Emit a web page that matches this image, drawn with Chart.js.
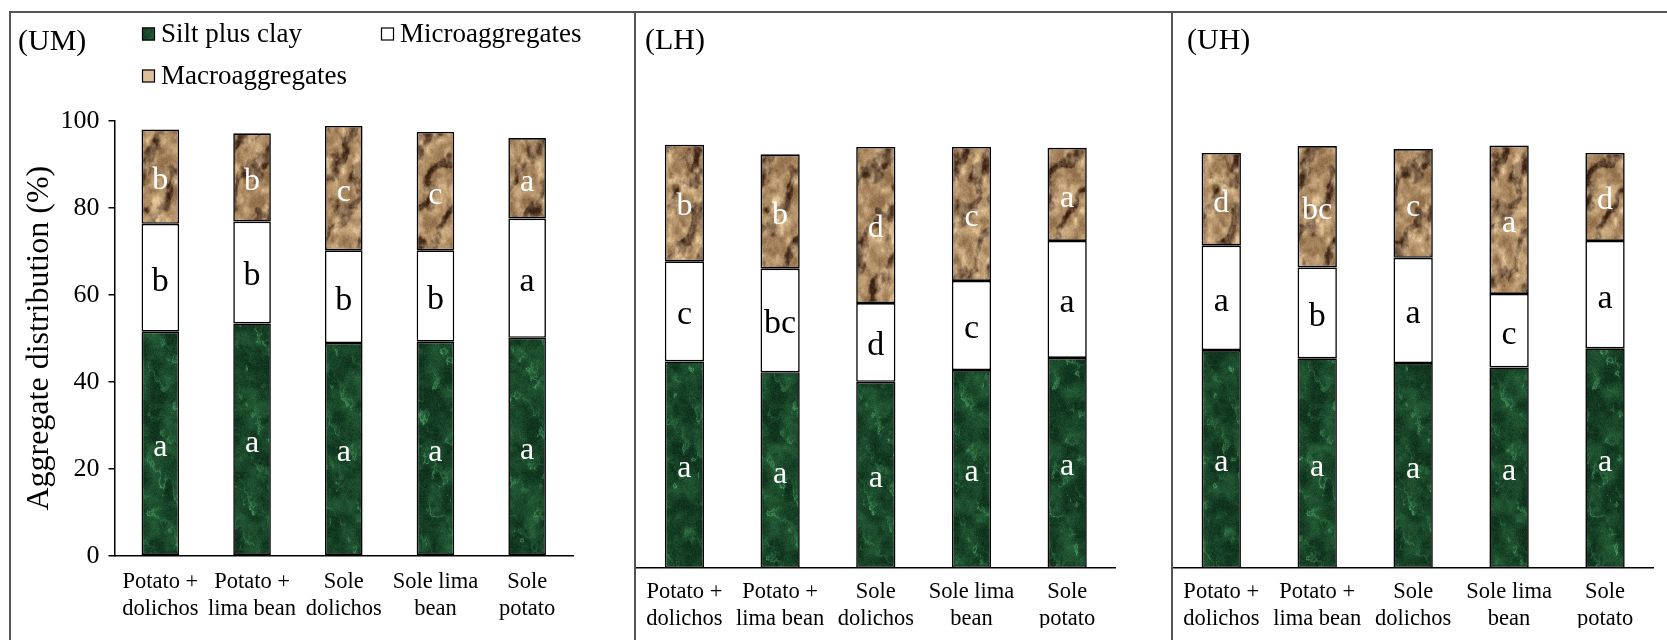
<!DOCTYPE html>
<html lang="en">
<head>
<meta charset="UTF-8">
<title>Aggregate distribution</title>
<style>
  html, body { margin: 0; padding: 0; background: #fff; }
  #wrap { position: relative; width: 1667px; height: 640px; overflow: hidden;
          font-family: 'Times New Roman', 'Liberation Serif', serif; }
  canvas { position: absolute; top: 0; }
  .rule { position: absolute; background: #555; }
  .tag { position: absolute; font-size: 30px; line-height: 30px; color: #000; white-space: nowrap; }
</style>
</head>
<body>
<div id="wrap">
  <canvas id="um" width="640" height="640" style="left:0px;width:640px;height:640px"></canvas>
  <canvas id="lh" width="540" height="640" style="left:620px;width:540px;height:640px"></canvas>
  <canvas id="uh" width="507" height="640" style="left:1160px;width:507px;height:640px"></canvas>

  <div class="rule" style="left:9px;top:11px;width:1658px;height:2px"></div>
  <div class="rule" style="left:9px;top:11px;width:2px;height:629px"></div>
  <div class="rule" style="left:634px;top:11px;width:2px;height:629px"></div>
  <div class="rule" style="left:1171px;top:11px;width:2px;height:629px"></div>

  <div class="tag" style="left:18px;top:25px">(UM)</div>
  <div class="tag" style="left:645px;top:24px">(LH)</div>
  <div class="tag" style="left:1187px;top:24px">(UH)</div>
</div>

<script src="https://cdn.jsdelivr.net/npm/chart.js"></script>
<script>
const SERIF = "'Times New Roman', 'Liberation Serif', serif";

// categories (two-line tick labels)
const treatments = [
  ['Potato +', 'dolichos'],
  ['Potato +', 'lima bean'],
  ['Sole', 'dolichos'],
  ['Sole lima', 'bean'],
  ['Sole', 'potato']
];
const fractionNames = ['Silt plus clay', 'Microaggregates', 'Macroaggregates'];
const yTicks = [0, 20, 40, 60, 80, 100];

// UM
const umSilt  = [51.5, 53.4, 48.9, 49.2, 50.1];
const umMicro = [24.8, 23.4, 21.3, 21.0, 27.4];
const umMacro = [21.7, 20.3, 28.6, 27.2, 18.5];
const umSiltLet  = ['a', 'a', 'a', 'a', 'a'];
const umMicroLet = ['b', 'b', 'b', 'b', 'a'];
const umMacroLet = ['b', 'b', 'c', 'c', 'a'];

// LH
const lhSilt  = [47.5, 45.0, 42.8, 45.5, 48.3];
const lhMicro = [23.0, 23.8, 18.1, 20.5, 26.9];
const lhMacro = [26.8, 26.3, 35.9, 30.8, 21.4];
const lhSiltLet  = ['a', 'a', 'a', 'a', 'a'];
const lhMicroLet = ['c', 'bc', 'd', 'c', 'a'];
const lhMacroLet = ['b', 'b', 'd', 'c', 'a'];

// UH
const uhSilt  = [50.1, 48.2, 47.1, 46.1, 50.5];
const uhMicro = [24.0, 20.9, 24.2, 16.9, 24.7];
const uhMacro = [21.3, 27.9, 25.0, 34.1, 20.2];
const uhSiltLet  = ['a', 'a', 'a', 'a', 'a'];
const uhMicroLet = ['a', 'b', 'a', 'c', 'a'];
const uhMacroLet = ['d', 'bc', 'c', 'a', 'd'];

// ---- bar textures (green marble, tan rock) ----
function hash(x, y, s) {
  const n = Math.sin(x * 127.1 + y * 311.7 + s * 74.7) * 43758.5453;
  return n - Math.floor(n);
}
function vnoise(x, y, s) {
  const xi = Math.floor(x), yi = Math.floor(y);
  const xf = x - xi, yf = y - yi;
  const u = xf * xf * (3 - 2 * xf), v = yf * yf * (3 - 2 * yf);
  const a = hash(xi, yi, s), b = hash(xi + 1, yi, s);
  const c = hash(xi, yi + 1, s), d = hash(xi + 1, yi + 1, s);
  return a + (b - a) * u + (c - a) * v + (a - b - c + d) * u * v;
}
function fbm(x, y, s) {
  let t = 0, amp = 0.5, f = 1;
  for (let o = 0; o < 4; o++) { t += amp * vnoise(x * f, y * f, s + o); amp *= 0.5; f *= 2; }
  return t / 0.9375;
}
const clamp = v => Math.min(1, Math.max(0, v));
function makeTexture(kind, w, h) {
  const c = document.createElement('canvas');
  c.width = w; c.height = h;
  const g = c.getContext('2d');
  const img = g.createImageData(w, h);
  for (let y = 0; y < h; y++) {
    for (let x = 0; x < w; x++) {
      let r, gg, b;
      if (kind === 'green') {
        const n = fbm(x / 14, y / 14, 1);
        const m = fbm(x / 6, y / 9, 7);
        const k = clamp((n - 0.3) * 1.8);
        let streak = 1 - Math.abs(Math.sin(x * 0.09 - y * 0.07 + m * 5));
        streak = Math.pow(streak, 3) * clamp((m - 0.42) * 3);
        r = 16 + 22 * k + 44 * streak;
        gg = 52 + 44 * k + 78 * streak;
        b = 30 + 26 * k + 52 * streak;
        const gr = (hash(x, y, 9) - 0.5) * 16;
        r += gr; gg += gr; b += gr;
      } else {
        const n = fbm(x / 7, y / 10, 5);
        const m = fbm(x / 16, y / 22, 11);
        const k = clamp((n - 0.22) * 1.9);
        // sandy body, light to mid brown
        r = 216 - 72 * k; gg = 184 - 74 * k; b = 140 - 66 * k;
        // broad dark slanted ridges
        const ridge = Math.sin(x * 0.17 + y * 0.1 + m * 8);
        const d = clamp((ridge - 0.05) / 0.75) * (0.35 + 0.65 * clamp((n - 0.2) * 2));
        r -= 85 * d; gg -= 76 * d; b -= 56 * d;
        // pale highlights on ridge edges
        const hi = clamp((0.32 - n) * 4) * (1 - d);
        r += 26 * hi; gg += 24 * hi; b += 20 * hi;
        const gr = (hash(x, y, 3) - 0.5) * 14;
        r += gr; gg += gr; b += gr;
      }
      const i = (y * w + x) * 4;
      img.data[i] = r; img.data[i + 1] = gg; img.data[i + 2] = b; img.data[i + 3] = 255;
    }
  }
  g.putImageData(img, 0, 0);
  return g.createPattern(c, 'repeat');
}
const greenFill = makeTexture('green', 640, 640);
const tanFill = makeTexture('tan', 640, 640);

// ---- plugins ----
const segmentLetters = {
  id: 'segmentLetters',
  afterDatasetsDraw(chart) {
    const ctx = chart.ctx;
    chart.data.datasets.forEach((ds, i) => {
      const meta = chart.getDatasetMeta(i);
      meta.data.forEach((bar, j) => {
        const p = bar.getProps(['x', 'y', 'base'], true);
        ctx.save();
        ctx.font = ds.letterSize + 'px ' + SERIF;
        ctx.fillStyle = ds.letterColor;
        ctx.textAlign = 'center';
        ctx.textBaseline = 'middle';
        ctx.fillText(ds.letters[j], p.x, (p.y + p.base) / 2 + 4);
        ctx.restore();
      });
    });
  }
};

const boxLegend = {
  id: 'boxLegend',
  afterDraw(chart, args, opts) {
    if (!opts.items) return;
    const ctx = chart.ctx;
    const ds = chart.data.datasets;
    opts.items.forEach(it => {
      const d = ds[it.index];
      ctx.save();
      ctx.fillStyle = it.swatch || d.backgroundColor;
      ctx.fillRect(it.x, it.y - 6.5, 13, 13);
      ctx.lineWidth = 1.2;
      ctx.strokeStyle = '#000';
      ctx.strokeRect(it.x + 0.5, it.y - 6, 12, 12);
      ctx.fillStyle = '#000';
      ctx.font = '27px ' + SERIF;
      ctx.textBaseline = 'middle';
      ctx.fillText(d.label, it.x + 19, it.y + 1);
      ctx.restore();
    });
  }
};

function datasets(silt, micro, macro, sLet, miLet, maLet) {
  const common = { borderColor: '#000', borderWidth: 1.6, borderSkipped: false,
                   barPercentage: 0.41, categoryPercentage: 1.0 };
  return [
    Object.assign({ label: fractionNames[0], data: silt, backgroundColor: greenFill,
                    letters: sLet, letterColor: '#fff', letterSize: 32 }, common),
    Object.assign({ label: fractionNames[1], data: micro, backgroundColor: '#fff',
                    letters: miLet, letterColor: '#000', letterSize: 34 }, common),
    Object.assign({ label: fractionNames[2], data: macro, backgroundColor: tanFill,
                    letters: maLet, letterColor: '#fff', letterSize: 32 }, common)
  ];
}

function panel(id, sets, geo) {
  const showY = !!geo.yAxis;
  return new Chart(document.getElementById(id), {
    type: 'bar',
    data: { labels: treatments, datasets: sets },
    plugins: [segmentLetters, boxLegend],
    options: {
      responsive: false,
      animation: false,
      events: [],
      layout: { padding: geo.padding },
      plugins: {
        legend: { display: false },
        tooltip: { enabled: false },
        boxLegend: { items: geo.legend || null }
      },
      scales: {
        x: {
          stacked: true,
          grid: { display: false, drawTicks: false },
          border: { display: true, color: '#000', width: 1.5 },
          ticks: { color: '#000', padding: geo.xPad, autoSkip: false,
                   maxRotation: 0, minRotation: 0,
                   font: { family: SERIF, size: 22.5 } },
          afterFit(s) { s.height = geo.xHeight; }
        },
        y: {
          stacked: true,
          display: showY,
          min: 0, max: 100,
          afterBuildTicks(s) { s.ticks = yTicks.map(v => ({ value: v })); },
          grid: { display: true, drawOnChartArea: false, drawTicks: true, tickLength: 6,
                  color: '#000', lineWidth: 1.5 },
          border: { display: true, color: '#000', width: 1.5 },
          ticks: { color: '#000', padding: 9, font: { family: SERIF, size: 26 } },
          title: { display: showY, text: 'Aggregate distribution (%)', color: '#000',
                   padding: { top: 20, bottom: 0 }, font: { family: SERIF, size: 32 } },
          afterFit(s) { if (showY) s.width = geo.yAxis; }
        }
      }
    }
  });
}

panel('um', datasets(umSilt, umMicro, umMacro, umSiltLet, umMicroLet, umMacroLet), {
  yAxis: 114.5,
  padding: { left: 0, right: 67, top: 120.7, bottom: 14.3 },
  xHeight: 70, xPad: 13,
  legend: [
    { index: 0, x: 142, y: 34 },
    { index: 1, x: 381, y: 34 },
    { index: 2, x: 142, y: 76, swatch: '#dcc09a' }
  ]
});

panel('lh', datasets(lhSilt, lhMicro, lhMacro, lhSiltLet, lhMicroLet, lhMacroLet), {
  padding: { left: 16.6, right: 45, top: 133, bottom: 12 },
  xHeight: 60, xPad: 11
});

panel('uh', datasets(uhSilt, uhMicro, uhMacro, uhSiltLet, uhMicroLet, uhMacroLet), {
  padding: { left: 13.3, right: 14, top: 133, bottom: 12 },
  xHeight: 60, xPad: 11
});
</script>
</body>
</html>
